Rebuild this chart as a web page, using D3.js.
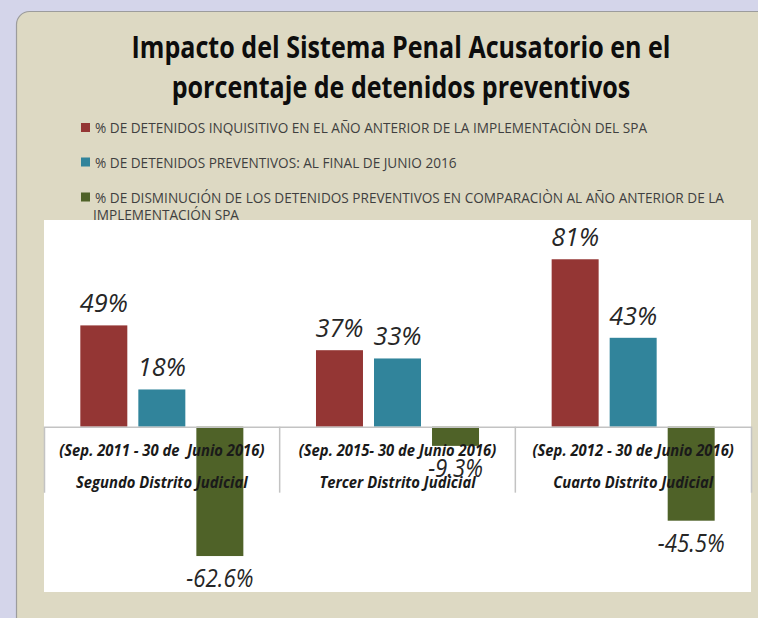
<!DOCTYPE html>
<html><head><meta charset="utf-8">
<script src="https://cdn.jsdelivr.net/npm/d3@7"></script>
<style>html,body{margin:0;padding:0;background:#d4d5ea;overflow:hidden} svg{display:block}</style>
</head><body>
<script>
// ---------- data ----------
const titleLines = ["Impacto del Sistema Penal Acusatorio en el", "porcentaje de detenidos preventivos"];
const categories = ["Segundo Distrito Judicial", "Tercer Distrito Judicial", "Cuarto Distrito Judicial"];
const periods = ["(Sep. 2011 - 30 de\u00a0 Junio 2016)", "(Sep. 2015- 30 de Junio 2016)", "(Sep. 2012 - 30 de Junio 2016)"];
const seriesNames = [
  "% DE DETENIDOS INQUISITIVO EN EL AÑO ANTERIOR DE LA IMPLEMENTACIÒN DEL SPA",
  "% DE DETENIDOS PREVENTIVOS: AL FINAL DE JUNIO 2016",
  "% DE DISMINUCIÓN DE LOS DETENIDOS PREVENTIVOS EN COMPARACIÒN AL AÑO ANTERIOR DE LA|IMPLEMENTACIÓN SPA"
];
const inquisitivo = [49, 37, 81];
const preventivos = [18, 33, 43];
const disminucion = [-62.6, -9.3, -45.5];
const labelDecimals = [0, 0, 1];
const yDomain = [-80, 100];

// ---------- style ----------
const colors = ["#943634", "#31849b", "#4f6228"];
const W = 758, H = 618;
const plot = {x0: 44, x1: 751, y0: 220, y1: 592};
const FONT = "'Open Sans', 'DejaVu Sans', sans-serif";

const series = [inquisitivo, preventivos, disminucion];
const data = [];
categories.forEach((c, i) => series.forEach((s, j) => data.push({cat: c, si: j, v: s[i]})));

const svg = d3.select("body").append("svg").attr("width", W).attr("height", H);

// outer panel
svg.append("rect").attr("x", 16.5).attr("y", 11.5).attr("width", 820).attr("height", 700)
  .attr("rx", 13).attr("fill", "#ddd9c3").attr("stroke", "#9c9c9c").attr("stroke-width", 1.2);

function condense(sel, k) {
  sel.each(function () {
    const w = this.getComputedTextLength();
    d3.select(this).attr("textLength", w * k).attr("lengthAdjust", "spacingAndGlyphs");
  });
}

// title
const titleG = svg.append("g");
const tl = titleG.selectAll("text").data(titleLines).join("text")
  .attr("x", 401).attr("y", (d, i) => 58 + i * 40)
  .attr("text-anchor", "middle").attr("font-family", FONT).attr("font-weight", 700)
  .attr("font-size", 31).attr("fill", "#0d0d0d").text(d => d);
{
  const w0 = tl.nodes()[0].getComputedTextLength();
  condense(tl, 539 / w0);
}

// legend
const legG = svg.append("g");
const legBase = [133, 167.5, 202.5];
seriesNames.forEach((name, i) => {
  legG.append("rect").attr("x", 81).attr("y", legBase[i] - 10).attr("width", 9).attr("height", 9)
    .attr("fill", colors[i]);
  name.split("|").forEach((line, li) => {
    legG.append("text").attr("class", "leg")
      .attr("x", li === 0 ? 95 : 93).attr("y", legBase[i] + li * 17)
      .attr("font-family", FONT).attr("font-size", 14).attr("fill", "#3f3f3f").text(line);
  });
});
{
  const legs = legG.selectAll("text.leg");
  const w0 = legs.nodes()[0].getComputedTextLength();
  condense(legs, 552 / w0);
}

// plot area
svg.append("rect").attr("x", plot.x0).attr("y", plot.y0)
  .attr("width", plot.x1 - plot.x0).attr("height", plot.y1 - plot.y0).attr("fill", "#ffffff");

// scales
const x = d3.scaleBand().domain(categories).range([plot.x0, plot.x1]).padding(0);
const xs = d3.scaleBand().domain(d3.range(series.length)).range([0, x.bandwidth()])
  .paddingInner(0.19).paddingOuter(0.626);
const y = d3.scaleLinear().domain(yDomain).range([plot.y1, plot.y0]);

// bars
svg.append("g").selectAll("rect").data(data).join("rect")
  .attr("x", d => x(d.cat) + xs(d.si))
  .attr("width", xs.bandwidth())
  .attr("y", d => Math.min(y(d.v), y(0)))
  .attr("height", d => Math.abs(y(d.v) - y(0)))
  .attr("fill", d => colors[d.si]);

// category axis
const tickLen = 66;
const axis = d3.axisBottom(x).tickSize(0).tickSizeOuter(tickLen).tickFormat("");
const axG = svg.append("g").attr("transform", `translate(0,${y(0)})`).call(axis);
axG.select(".domain").attr("stroke", "#c3c3c3").attr("stroke-width", 1.5);
axG.selectAll(".tick").remove();
axG.selectAll("line.sep").data(categories.slice(1)).join("line").attr("class", "sep")
  .attr("x1", d => x(d)).attr("x2", d => x(d)).attr("y1", 0).attr("y2", tickLen)
  .attr("stroke", "#c3c3c3").attr("stroke-width", 1.5);

// category labels
const catG = svg.append("g");
const p1 = catG.selectAll("text.p").data(periods).join("text").attr("class", "p")
  .attr("x", (d, i) => x(categories[i]) + x.bandwidth() / 2).attr("y", 455.5)
  .attr("text-anchor", "middle").attr("font-family", FONT).attr("font-style", "italic")
  .attr("font-weight", 700).attr("font-size", 16.5).attr("fill", "#1a1a1a").text(d => d);
const p2 = catG.selectAll("text.c").data(categories).join("text").attr("class", "c")
  .attr("x", d => x(d) + x.bandwidth() / 2).attr("y", 488)
  .attr("text-anchor", "middle").attr("font-family", FONT).attr("font-style", "italic")
  .attr("font-weight", 700).attr("font-size", 16.5).attr("fill", "#1a1a1a").text(d => d);
{
  const w0 = p2.nodes()[2].getComputedTextLength();
  const k = 160 / w0;
  condense(p1, k); condense(p2, k);
}

// data labels
const fmtVal = (v, dec) => (v < 0 ? "-" : "") + d3.format("." + dec + "f")(Math.abs(v)) + "%";
const lab = svg.append("g").selectAll("text").data(data).join("text")
  .attr("x", d => x(d.cat) + xs(d.si) + xs.bandwidth() / 2)
  .attr("y", d => d.v >= 0 ? y(d.v) - 13 : y(d.v) + 31)
  .attr("text-anchor", "middle").attr("font-family", FONT).attr("font-style", "italic")
  .attr("font-size", 25).attr("fill", "#262626")
  .text(d => fmtVal(d.v, labelDecimals[d.si]));
{
  const pos = lab.filter(d => d.v >= 0), neg = lab.filter(d => d.v < 0);
  condense(pos, 48 / pos.nodes()[0].getComputedTextLength());
  condense(neg, 67 / neg.nodes()[0].getComputedTextLength());
}
</script>
</body></html>
